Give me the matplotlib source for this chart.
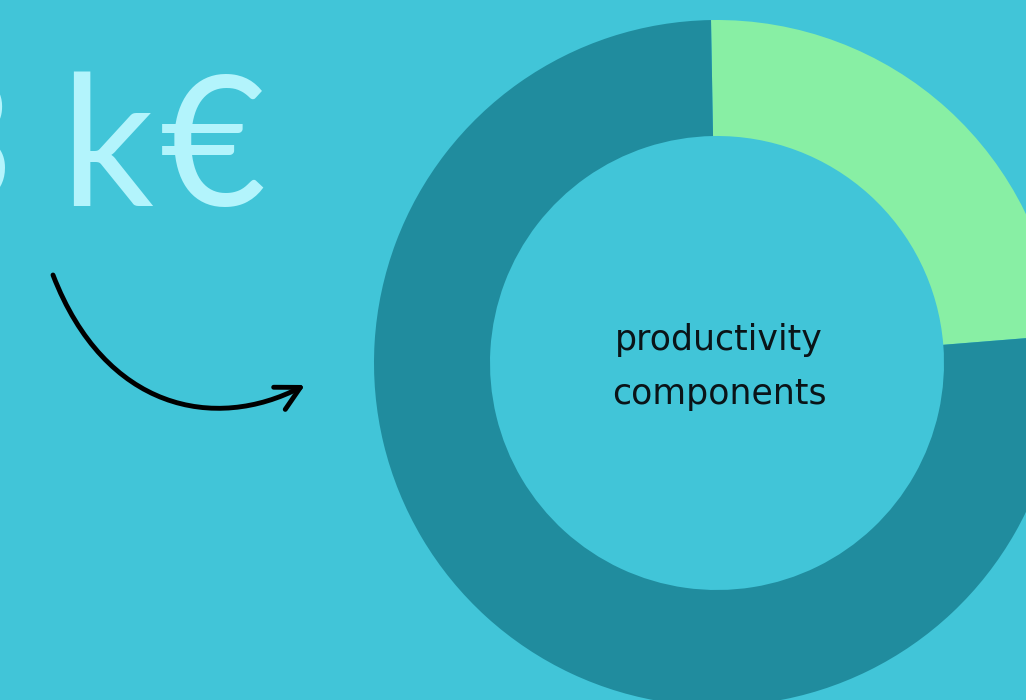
import matplotlib
matplotlib.use("Agg")
import matplotlib.pyplot as plt
from matplotlib.patches import FancyArrowPatch
from matplotlib.path import Path

# Data
categories = ["productivity A", "productivity B"]
values = [24, 76]
colors = ["#88efa4", "#208c9e"]
headline_parts = ["3", "k", "€"]
center_lines = ["productivity", "components"]

BG = "#41c5d8"
W, H = 1026, 700
fig = plt.figure(figsize=(W / 100, H / 100), dpi=100, facecolor=BG)
ax = fig.add_axes([0, 0, 1, 1])
ax.set_facecolor(BG)

cx, cy, R = 717, H - 363, 343
ax.pie(values, colors=colors, startangle=91, counterclock=False,
       center=(cx, cy), radius=R, frame=True,
       wedgeprops=dict(width=116, linewidth=0))
ax.set_xlim(0, W)
ax.set_ylim(0, H)
ax.set_aspect("equal")
ax.axis("off")

hl_kw = dict(fontsize=132, color="#b3f4fc", family="Lato", weight="normal",
             va="baseline")
base_y = H - 206
ax.text(14, base_y, headline_parts[0], ha="right", **hl_kw)
ax.text(60, base_y, headline_parts[1], ha="left", **hl_kw)
ax.text(160, base_y, headline_parts[2], ha="left", **hl_kw)

ct_kw = dict(fontsize=25, color="#0a1418", family="DejaVu Sans", ha="center",
             va="baseline")
ax.text(cx + 2, H - 350, center_lines[0], **ct_kw)
ax.text(cx + 2, H - 404, center_lines[1], **ct_kw)

verts = [(53, H - 275), (105, H - 410), (215, H - 432), (305, H - 385)]
path = Path(verts, [Path.MOVETO, Path.CURVE4, Path.CURVE4, Path.CURVE4])
arrow = FancyArrowPatch(path=path, arrowstyle="->,head_length=17,head_width=9",
                        color="black", lw=3.5, capstyle="round", joinstyle="round")
ax.add_patch(arrow)

fig.savefig("out.png", dpi=100, facecolor=BG)
